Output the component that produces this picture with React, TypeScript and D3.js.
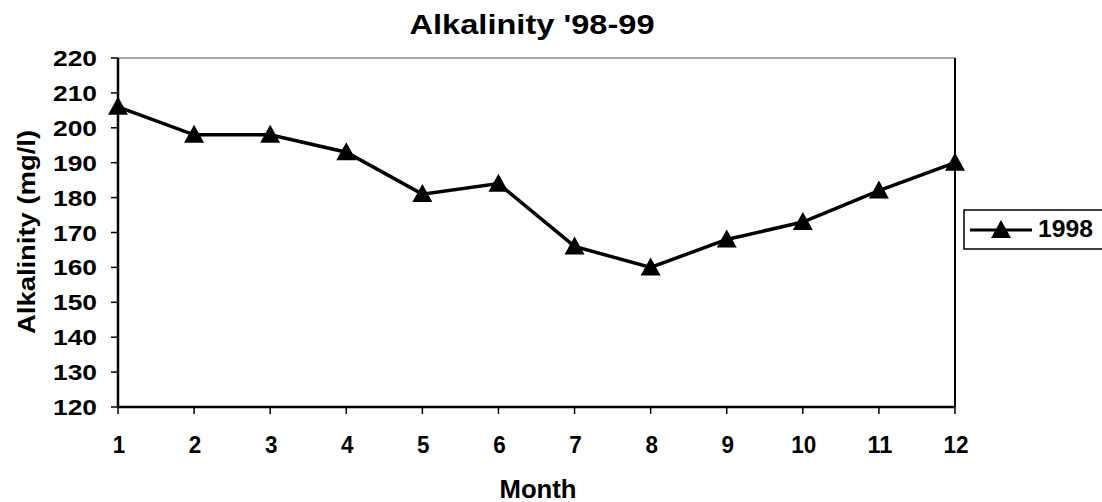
import React from "react";
import * as d3 from "d3";

const months = [1, 2, 3, 4, 5, 6, 7, 8, 9, 10, 11, 12];
const values1998 = [206, 198, 198, 193, 181, 184, 166, 160, 168, 173, 182, 190];
const yTicks = [120, 130, 140, 150, 160, 170, 180, 190, 200, 210, 220];
const seriesName = "1998";

const W = 1102, H = 502;
const L = 118, R = 955, T = 58, B = 407;
const FONT = "'Liberation Sans', Arial, sans-serif";

function tri(cx: number, cy: number, s = 10) {
  return `M${cx},${cy - s}L${cx + s},${cy + s * 0.8}L${cx - s},${cy + s * 0.8}Z`;
}

export default function App() {
  const x = d3.scaleLinear().domain([1, 12]).range([L, R]);
  const y = d3.scaleLinear().domain([120, 220]).range([B, T]);
  const line = d3.line<number>().x((_, i) => x(months[i])).y((d) => y(d));
  return (
    <svg width={W} height={H} style={{ position: "absolute", left: 0, top: 0, background: "#fff" }}>
      <rect x={0} y={0} width={W} height={H} fill="#fff" />
      <text x={532} y={34} textAnchor="middle" fontFamily={FONT} fontWeight="bold" fontSize={27}
        textLength={245} lengthAdjust="spacingAndGlyphs">Alkalinity '98-99</text>
      {/* plot frame */}
      <line x1={L} y1={T} x2={R} y2={T} stroke="#555" strokeWidth={1.2} />
      <line x1={R} y1={T} x2={R} y2={B} stroke="#000" strokeWidth={2} />
      <line x1={L} y1={T} x2={L} y2={B} stroke="#000" strokeWidth={2.5} />
      <line x1={L} y1={B} x2={R} y2={B} stroke="#000" strokeWidth={2.5} />
      {yTicks.map((t) => (
        <g key={t}>
          <line x1={L - 7} x2={L} y1={y(t)} y2={y(t)} stroke="#000" strokeWidth={1.5} />
          <text x={97} y={y(t) + 8} textAnchor="end" fontFamily={FONT} fontWeight="bold" fontSize={22}
            textLength={44} lengthAdjust="spacingAndGlyphs">{t}</text>
        </g>
      ))}
      {months.map((m) => (
        <g key={m}>
          <line x1={x(m)} x2={x(m)} y1={B} y2={B + 7} stroke="#000" strokeWidth={1.5} />
          <text x={x(m) + 1} y={453} textAnchor="middle" fontFamily={FONT} fontWeight="bold" fontSize={24}
            textLength={String(m).length * 12.5} lengthAdjust="spacingAndGlyphs">{m}</text>
        </g>
      ))}
      <text x={538} y={498} textAnchor="middle" fontFamily={FONT} fontWeight="bold" fontSize={25}
        textLength={77} lengthAdjust="spacingAndGlyphs">Month</text>
      <text transform={`translate(35,232) rotate(-90)`} textAnchor="middle" fontFamily={FONT} fontWeight="bold" fontSize={24}
        textLength={204} lengthAdjust="spacingAndGlyphs">Alkalinity (mg/l)</text>
      <path d={line(values1998) || ""} fill="none" stroke="#000" strokeWidth={3.5} />
      {values1998.map((v, i) => (
        <path key={i} d={tri(x(months[i]), y(v))} fill="#000" />
      ))}
      {/* legend */}
      <rect x={964} y={210} width={150} height={39} fill="#fff" stroke="#000" strokeWidth={1.5} />
      <line x1={970} x2={1032} y1={230} y2={230} stroke="#000" strokeWidth={3} />
      <path d={tri(1001, 230)} fill="#000" />
      <text x={1038} y={237} fontFamily={FONT} fontWeight="bold" fontSize={23}
        textLength={55} lengthAdjust="spacingAndGlyphs">{seriesName}</text>
    </svg>
  );
}
